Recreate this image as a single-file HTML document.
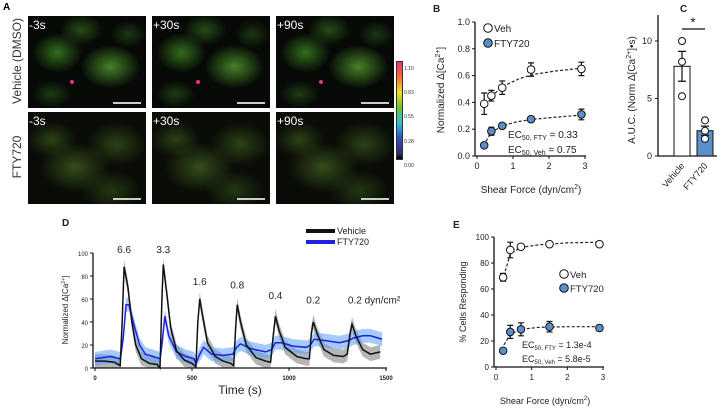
<!DOCTYPE html>
<html><head><meta charset="utf-8">
<style>
body{margin:0;background:#fff;width:726px;height:408px;overflow:hidden;font-family:"Liberation Sans",sans-serif}
.img{position:absolute;width:118px;height:92px;background:#050805;overflow:hidden}
.img.v{background:radial-gradient(ellipse 30px 22px at 70% 55%,rgba(90,170,50,.75),transparent),radial-gradient(ellipse 25px 20px at 25% 40%,rgba(70,150,40,.7),transparent),radial-gradient(ellipse 22px 16px at 45% 15%,rgba(60,120,35,.6),transparent),radial-gradient(ellipse 18px 14px at 85% 20%,rgba(50,100,30,.5),transparent),radial-gradient(ellipse 20px 14px at 20% 85%,rgba(50,110,30,.5),transparent),#060906}
.img.f{background:radial-gradient(ellipse 35px 25px at 40% 60%,rgba(80,120,40,.6),transparent),radial-gradient(ellipse 30px 22px at 75% 35%,rgba(70,110,35,.55),transparent),radial-gradient(ellipse 25px 18px at 20% 30%,rgba(70,110,35,.55),transparent),radial-gradient(ellipse 30px 20px at 70% 85%,rgba(60,100,30,.5),transparent),#0a0c07}
.tl{position:absolute;left:1px;top:2px;color:#fff;font-size:12px}
.sb{position:absolute;right:5px;bottom:4px;width:28px;height:2px;background:#ccc}
.dot{position:absolute;width:4px;height:4px;border-radius:50%;background:#f0308a}
</style></head><body>
<div style="position:absolute;left:0;top:0;width:430px;height:210px">
<div style="position:absolute;left:3px;top:2px;font-weight:bold;font-size:10px">A</div>
<div style="position:absolute;left:-33px;top:54px;width:100px;text-align:center;transform:rotate(-90deg);font-size:12px;color:#333">Vehicle (DMSO)</div>
<div style="position:absolute;left:-20px;top:150px;width:74px;text-align:center;transform:rotate(-90deg);font-size:12px;color:#333">FTY720</div>
<div class="img v" style="left:28px;top:16px"><div class="tl">-3s</div><div class="dot" style="left:42px;top:64px"></div><div class="sb"></div></div>
<div class="img v" style="left:152px;top:16px"><div class="tl">+30s</div><div class="dot" style="left:44px;top:64px"></div><div class="sb"></div></div>
<div class="img v" style="left:276px;top:16px"><div class="tl">+90s</div><div class="dot" style="left:43px;top:64px"></div><div class="sb"></div></div>
<div class="img f" style="left:28px;top:112px"><div class="tl">-3s</div><div class="sb"></div></div>
<div class="img f" style="left:152px;top:112px"><div class="tl">+30s</div><div class="sb"></div></div>
<div class="img f" style="left:276px;top:112px"><div class="tl">+90s</div><div class="sb"></div></div>
<div style="position:absolute;left:396px;top:61px;width:5px;height:97px;background:linear-gradient(#f0307a,#f07030,#f0e020,#70c030,#30c0e0,#3050c0,#303070 94%,#000);border:1px solid #333"></div>
<div style="position:absolute;left:404px;top:57px;font-size:5px;color:#333;line-height:24.2px">1.10<br>0.83<br>0.55<br>0.28<br>0.00</div>
</div>
<svg id="chart" width="726" height="408" style="position:absolute;left:0;top:0" font-family="Liberation Sans, sans-serif"></svg>
<script>
// Panel B
const bX=[0.2,0.4,0.7,1.5,2.9];
const bVeh=[0.39,0.45,0.51,0.645,0.65];
const bVehErr=[0.08,0.04,0.05,0.05,0.05];
const bFty=[0.08,0.185,0.225,0.275,0.31];
const bFtyErr=[0.01,0.03,0.02,0.01,0.04];
const bYTicks=["0.0","0.2","0.4","0.6","0.8","1.0"];
const bXTicks=["0","1","2","3"];
// Panel C
const cCats=["Vehicle","FTY720"];
const cMeans=[7.8,2.2];
const cErr=[1.3,0.4];
const cPts=[[10,8.2,5.2],[3.1,2.2,1.5]];
const cYTicks=["0","5","10"];
// Panel D
const dT=[0,50,100,130,140,150,170,190,210,240,280,320,335,345,352,370,390,420,460,500,520,530,540,555,580,620,660,700,715,725,733,750,780,830,880,905,920,930,950,980,1040,1090,1105,1115,1125,1145,1180,1230,1280,1300,1315,1325,1345,1380,1420,1470];
const dVeh=[6,6,5,2,40,88,70,40,20,8,4,3,0,60,90,65,35,15,7,4,1,40,60,45,22,10,6,4,2,35,55,40,20,9,6,5,30,45,32,18,10,8,8,30,40,30,16,11,10,12,30,38,28,16,12,14];
const dFT=[0,80,130,145,160,175,200,230,260,300,335,345,360,380,420,470,510,520,540,560,600,660,710,730,750,800,880,910,930,960,1020,1090,1110,1130,1180,1260,1310,1330,1380,1420,1480];
const dFty=[8,10,8,25,55,55,38,20,12,10,8,20,45,28,14,10,8,4,12,18,12,11,12,18,21,17,14,16,22,22,19,18,20,25,24,22,24,26,28,28,25];
const dSem=[6,6];
const dPeakT=[150,352,540,733,930,1125,1325];
const dPeakLbl=["6.6","3.3","1.6","0.8","0.4","0.2","0.2 dyn/cm²"];
const dPeakY=[100,100,72,69,60,56,56];
const dXTicks=["0","500","1000","1500"];
const dYTicks=["0","20","40","60","80","100"];
// Panel E
const eX=[0.2,0.4,0.7,1.5,2.9];
const eVeh=[69,90,92.5,94.5,94.5];
const eVehErr=[3,6,2,1,1];
const eFty=[12.5,27,29,31,30];
const eFtyErr=[2,5,5,4,2];
const eYTicks=["0","20","40","60","80","100"];
const eXTicks=["0","1","2","3"];

const svg=document.getElementById('chart');
const NS='http://www.w3.org/2000/svg';
function mk(tag,at,name,parent){const e=document.createElementNS(NS,tag);for(const k in at)e.setAttribute(k,at[k]);


(parent||svg).appendChild(e);return e;}
function txt(x,y,s,name,sz,anchor,extra){const t=mk('text',Object.assign({x:x,y:y,'font-size':sz,'text-anchor':anchor||'middle',fill:'#222'},extra||{}),name);t.innerHTML=s;return t;}
function axes(o){
  o.sx=v=>o.x0+(v-o.xmin)/(o.xmax-o.xmin)*(o.x1-o.x0);
  o.sy=v=>o.y0-(v-o.ymin)/(o.ymax-o.ymin)*(o.y0-o.y1);return o;}
function drawAxes(o,xt,yt,p,tsz){
  mk('line',{x1:o.x0-2,y1:o.y0,x2:o.x1+1,y2:o.y0,stroke:'#111','stroke-width':1.3},p+'-x-axis');
  mk('line',{x1:o.x0-2,y1:o.y0,x2:o.x0-2,y2:o.y1,stroke:'#111','stroke-width':1.3},p+'-y-axis');
  if(xt)xt.forEach(t=>{const x=o.sx(+t);mk('line',{x1:x,y1:o.y0,x2:x,y2:o.y0+3,stroke:'#111'},p+'-x-tick');txt(x,o.y0+13,t,p+'-x-tick-label',tsz);});
  yt.forEach(t=>{const y=o.sy(+t);mk('line',{x1:o.x0-5,y1:y,x2:o.x0-2,y2:y,stroke:'#111'},p+'-y-tick');txt(o.x0-7,y+3,t,p+'-y-tick-label',tsz,'end');});
}
function scatter(o,xs,ys,es,fill,p,fit){
  const f=fit.map((v,i)=>(i?'L':'M')+o.sx(v[0])+','+o.sy(v[1])).join('');
  mk('path',{d:f,fill:'none',stroke:'#222','stroke-width':1.2,'stroke-dasharray':'3,2'},p+'-fit');
  xs.forEach((x,i)=>{const cx=o.sx(x),a=o.sy(ys[i]+es[i]),b=o.sy(ys[i]-es[i]);
    mk('path',{d:`M${cx},${a}V${b}M${cx-3},${a}H${cx+3}M${cx-3},${b}H${cx+3}`,stroke:'#111','stroke-width':1.2},p+'-errorbar');
    mk('circle',{cx:cx,cy:o.sy(ys[i]),r:3.8,fill:fill,stroke:'#111','stroke-width':1},p+'-point');});
}
// ---- B
const B=axes({x0:477,x1:585,y0:156,y1:22,xmin:0,xmax:3,ymin:0,ymax:1});
txt(433,12,'B','panel-b-label',10,'start',{'font-weight':'bold'});
drawAxes(B,bXTicks,bYTicks,'b',9);
txt(444,90,'Normalized Δ[Ca<tspan font-size="7" dy="-4">2+</tspan><tspan dy="4">]</tspan>','b-y-axis-title',10,'middle',{transform:'rotate(-90 444 90)'});
txt(531,193,'Shear Force (dyn/cm<tspan font-size="7" dy="-4">2</tspan><tspan dy="4">)</tspan>','b-x-axis-title',10);
scatter(B,bX,bVeh,bVehErr,'#fff','b-veh',[[0.25,0.38],[0.5,0.47],[0.8,0.53],[1.2,0.58],[1.6,0.61],[2.2,0.635],[2.9,0.655]]);
scatter(B,bX,bFty,bFtyErr,'#5b8fcc','b-fty',[[0.25,0.11],[0.4,0.175],[0.7,0.225],[1.1,0.255],[1.6,0.275],[2.2,0.29],[2.9,0.305]]);
mk('circle',{cx:488,cy:28,r:4.3,fill:'#fff',stroke:'#111'},'b-legend-veh-marker');txt(494,32,'Veh','b-legend-veh',10,'start');
mk('circle',{cx:488,cy:43,r:4.3,fill:'#5b8fcc',stroke:'#111'},'b-legend-fty-marker');txt(494,47,'FTY720','b-legend-fty',10,'start');
txt(508,138,'EC<tspan font-size="7" dy="2">50, FTY</tspan><tspan dy="-2"> = 0.33</tspan>','b-ec50-fty',10,'start');
txt(508,153,'EC<tspan font-size="7" dy="2">50, Veh</tspan><tspan dy="-2"> = 0.75</tspan>','b-ec50-veh',10,'start');
// ---- C
const C=axes({x0:660,x1:716,y0:156,y1:41,xmin:0,xmax:1,ymin:0,ymax:10});
txt(680,12,'C','panel-c-label',10,'start',{'font-weight':'bold'});
mk('line',{x1:658,y1:156,x2:658,y2:15,stroke:'#111','stroke-width':1.3},'c-y-axis');
mk('line',{x1:658,y1:156,x2:717,y2:156,stroke:'#111','stroke-width':1.3},'c-x-axis');
cYTicks.forEach(t=>{const y=C.sy(+t);mk('line',{x1:655,y1:y,x2:658,y2:y,stroke:'#111'},'c-y-tick');txt(652,y+3,t,'c-y-tick-label',9,'end');});
txt(635,90,'A.U.C. (Norm Δ[Ca<tspan font-size="7" dy="-4">2+</tspan><tspan dy="4">]•s)</tspan>','c-y-axis-title',10,'middle',{transform:'rotate(-90 635 90)'});
const cx=[682,705],cf=['#fff','#5b8fcc'];
cCats.forEach((c,i)=>{const y=C.sy(cMeans[i]);
  mk('rect',{x:cx[i]-8,y:y,width:16,height:156-y,fill:cf[i],stroke:'#111','stroke-width':1},'c-bar-'+c.toLowerCase());
  const a=C.sy(cMeans[i]+cErr[i]),b=C.sy(cMeans[i]-cErr[i]);
  mk('path',{d:`M${cx[i]},${a}V${b}M${cx[i]-4},${a}H${cx[i]+4}M${cx[i]-4},${b}H${cx[i]+4}`,stroke:'#111','stroke-width':1.2},'c-errorbar');
  cPts[i].forEach(v=>mk('circle',{cx:cx[i],cy:C.sy(v),r:3.5,fill:'#fff',stroke:'#111'},'c-point'));
  txt(cx[i]+3,166,c,'c-x-tick-label',9,'end',{transform:`rotate(-50 ${cx[i]+3} 166)`});
});
mk('line',{x1:682,y1:29,x2:705,y2:29,stroke:'#111','stroke-width':1.2},'c-sig-bar');txt(693,27,'*','c-sig-star',14);
// ---- D
const D=axes({x0:95,x1:386,y0:368,y1:253,xmin:0,xmax:1500,ymin:0,ymax:100});
txt(62,226,'D','panel-d-label',10,'start',{'font-weight':'bold'});
function band(ts,vs,s,col,p){let u=ts.map((t,i)=>D.sx(t)+','+D.sy(vs[i]+s)).join(' L');let l=ts.map((t,i)=>D.sx(t)+','+D.sy(Math.max(0,vs[i]-s))).reverse().join(' L');
 mk('path',{d:'M'+u+' L'+l+'Z',fill:col},p+'-sem-band');}
function line(ts,vs,col,p){mk('path',{d:ts.map((t,i)=>(i?'L':'M')+D.sx(t)+','+D.sy(vs[i])).join(''),fill:'none',stroke:col,'stroke-width':1.5},p+'-line');}
band(dT,dVeh,dSem[0],'rgba(120,120,120,.55)','d-vehicle');
band(dFT,dFty,dSem[1],'rgba(90,160,250,.55)','d-fty720');
line(dFT,dFty,'#2020e0','d-fty720');
line(dT,dVeh,'#111','d-vehicle');
drawAxes(D,null,dYTicks,'d',6);
dXTicks.forEach(t=>{const x=D.sx(+t);mk('line',{x1:x,y1:368,x2:x,y2:371,stroke:'#111'},'d-x-tick');txt(x,380,t,'d-x-tick-label',6,'middle',{'font-weight':'bold'});});
txt(240,394,'Time (s)','d-x-axis-title',12);
txt(68,310,'Normalized Δ[Ca<tspan font-size="5" dy="-3">2+</tspan><tspan dy="3">]</tspan>','d-y-axis-title',8,'middle',{transform:'rotate(-90 68 310)'});
dPeakT.forEach((t,i)=>txt(i==6?D.sx(t)+22:D.sx(t),D.sy(dPeakY[i])+0,dPeakLbl[i],'d-peak-label',10));
mk('rect',{x:306,y:229,width:29,height:4,fill:'#111'},'d-legend-vehicle-swatch');txt(337,234,'Vehicle','d-legend-vehicle',9,'start');
mk('rect',{x:306,y:240,width:29,height:4,fill:'#2020e0'},'d-legend-fty720-swatch');txt(337,245,'FTY720','d-legend-fty720',9,'start');
// ---- E
const E=axes({x0:496,x1:603,y0:367,y1:237,xmin:0,xmax:3,ymin:0,ymax:100});
txt(453,228,'E','panel-e-label',10,'start',{'font-weight':'bold'});
drawAxes(E,eXTicks,eYTicks,'e',8);
txt(466,302,'% Cells Responding','e-y-axis-title',9,'middle',{transform:'rotate(-90 466 302)'});
txt(545,404,'Shear Force (dyn/cm<tspan font-size="6" dy="-4">2</tspan><tspan dy="4">)</tspan>','e-x-axis-title',9);
scatter(E,eX,eVeh,eVehErr,'#fff','e-veh',[[0.22,70],[0.4,87],[0.7,92],[1.2,94],[2,95.5],[2.9,96]]);
scatter(E,eX,eFty,eFtyErr,'#5b8fcc','e-fty',[[0.22,17],[0.4,25],[0.7,29],[1.2,30.5],[2,31],[2.9,31]]);
mk('circle',{cx:564,cy:274,r:4.3,fill:'#fff',stroke:'#111'},'e-legend-veh-marker');txt(570,278,'Veh','e-legend-veh',9.5,'start');
mk('circle',{cx:564,cy:288,r:4.3,fill:'#5b8fcc',stroke:'#111'},'e-legend-fty-marker');txt(570,292,'FTY720','e-legend-fty',9.5,'start');
txt(522,348,'EC<tspan font-size="6" dy="2">50, FTY</tspan><tspan dy="-2"> = 1.3e-4</tspan>','e-ec50-fty',9,'start');
txt(522,362,'EC<tspan font-size="6" dy="2">50, Veh</tspan><tspan dy="-2"> = 5.8e-5</tspan>','e-ec50-veh',9,'start');
</script>
</body></html>
